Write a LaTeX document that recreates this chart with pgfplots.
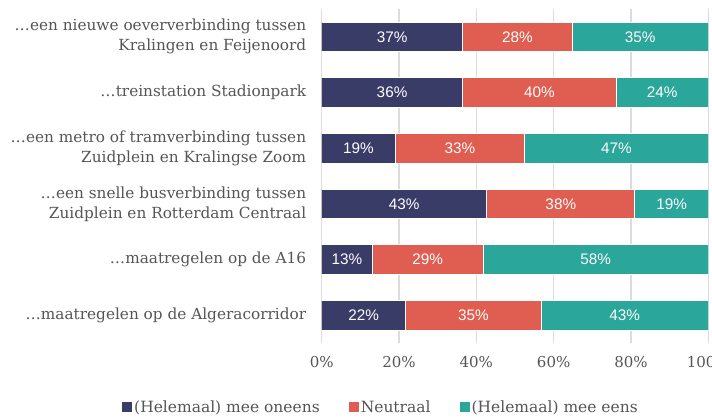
\documentclass[border=0pt]{standalone}
\usepackage{pgfplots}
\usepackage{pgfplotstable}
\pgfplotsset{compat=1.18}
\usepackage{fontspec}
\setmainfont{DejaVu Serif}
\newfontfamily\barfont{Liberation Sans}
\definecolor{cA}{HTML}{3A3C68}
\definecolor{cB}{HTML}{E05D51}
\definecolor{cC}{HTML}{2AA69B}
\definecolor{txt}{HTML}{555555}
\definecolor{gridc}{HTML}{DCDCDC}
\pgfplotstableread{
y x lab
0 36.5 37
1 36.4 36
2 19.0 19
3 42.7 43
4 13.1 13
5 21.7 22
}\dataA
\pgfplotstableread{
y x lab
0 28.3 28
1 39.8 40
2 33.5 33
3 38.3 38
4 28.6 29
5 35.1 35
}\dataB
\pgfplotstableread{
y x lab
0 35.2 35
1 23.8 24
2 47.5 47
3 19.0 19
4 58.3 58
5 43.2 43
}\dataC
\begin{document}
\begin{tikzpicture}
\begin{axis}[
  scale only axis, width=386.6pt, height=334pt,
  xbar stacked, bar width=0.53,
  xmin=0, xmax=100, ymin=-0.5, ymax=5.5, y dir=reverse,
  axis line style={draw=none},
  major tick length=0pt,
  xmajorgrids, grid style={gridc, line width=1.6pt},
  xtick={0,20,...,100},
  xticklabel={\pgfmathprintnumber{\tick}\%},
  /pgf/number format/assume math mode=true,
  xticklabel style={font=\fontsize{15}{18}\selectfont, text=txt, yshift=-10pt},
  ytick={0,1,2,3,4,5},
  yticklabels={{…een nieuwe oeververbinding tussen\\Kralingen en Feijenoord},
    {…treinstation Stadionpark},
    {…een metro of tramverbinding tussen\\Zuidplein en Kralingse Zoom},
    {…een snelle busverbinding tussen\\Zuidplein en Rotterdam Centraal},
    {…maatregelen op de A16},
    {…maatregelen op de Algeracorridor}},
  yticklabel style={align=right, font=\fontsize{15.3}{20}\selectfont, text=txt, xshift=-12pt},
  point meta=explicit,
  nodes near coords={\pgfmathprintnumber{\pgfplotspointmeta}\%},
  every node near coord/.append style={anchor=center, font=\barfont\fontsize{15.3}{18}\selectfont, text=white},
  legend style={at={(-0.5165,-0.1916)}, anchor=west, draw=none, fill=none, legend columns=3,
    font=\fontsize{15.5}{18}\selectfont, text=txt, inner sep=0pt, nodes={inner xsep=2pt},
    /tikz/every even column/.append style={column sep=27pt}},
  legend image code/.code={\path[#1, draw=none] (0pt,-5pt) rectangle (10pt,5pt);},
]
\addplot[fill=cA, draw=white, line width=0.8pt] table[x=x, y=y, meta=lab] {\dataA};
\addplot[fill=cB, draw=white, line width=0.8pt] table[x=x, y=y, meta=lab] {\dataB};
\addplot[fill=cC, draw=white, line width=0.8pt] table[x=x, y=y, meta=lab] {\dataC};
\legend{(Helemaal) mee oneens, Neutraal, (Helemaal) mee eens}
\end{axis}
\pgfresetboundingbox
\path[use as bounding box] ([xshift=-321.7pt,yshift=-75pt]current axis.south west) rectangle ([xshift=3.7pt,yshift=9pt]current axis.north east);
\end{tikzpicture}
\end{document}
